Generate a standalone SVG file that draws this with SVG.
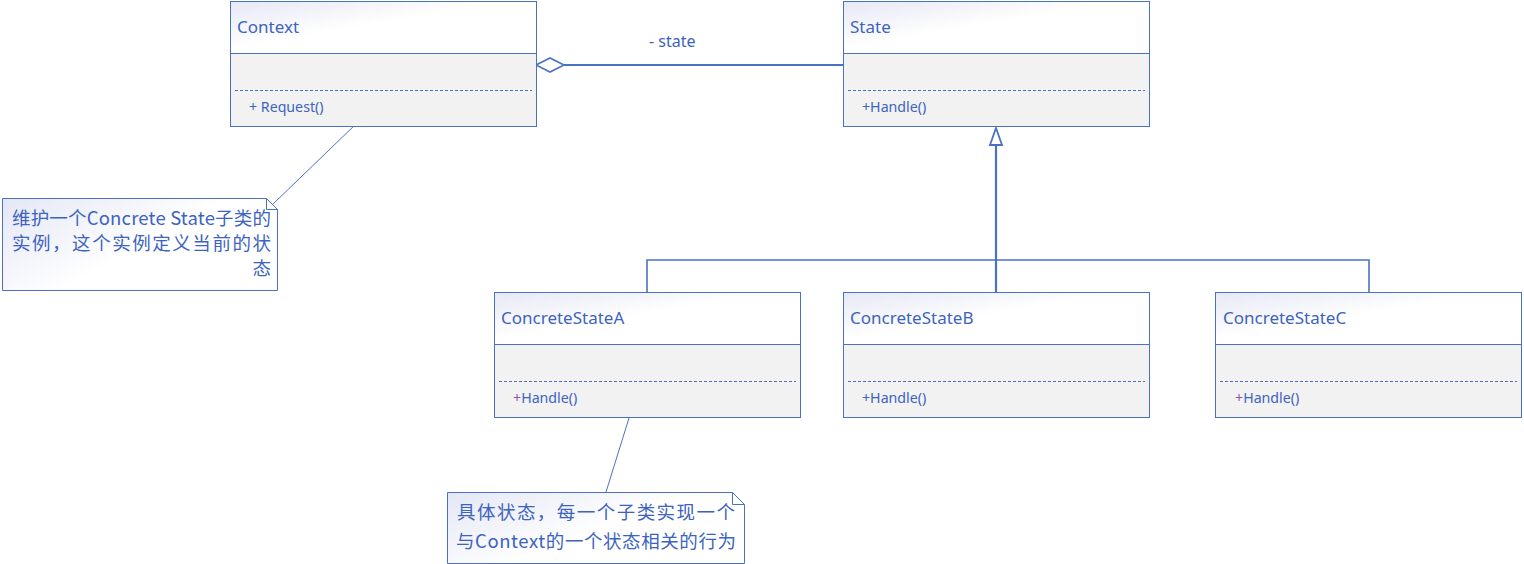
<svg xmlns="http://www.w3.org/2000/svg" width="1524" height="564" viewBox="0 0 1524 564">
<defs>
<linearGradient id="hdr" x1="0" y1="0" x2="1" y2="1">
<stop offset="0" stop-color="#e6e8f5"/>
<stop offset="0.45" stop-color="#ffffff"/>
<stop offset="1" stop-color="#ffffff"/>
</linearGradient>
<linearGradient id="note" x1="0" y1="0" x2="1" y2="0.6">
<stop offset="0" stop-color="#e4e7f5"/>
<stop offset="0.6" stop-color="#ffffff"/>
<stop offset="1" stop-color="#ffffff"/>
</linearGradient>
</defs>
<style>
.hdr{fill:url(#hdr);stroke:#4a72c4;stroke-width:1}
.body{fill:#f2f2f2;stroke:#4a72c4;stroke-width:1}
.dash{stroke:#4a72c4;stroke-width:1;stroke-dasharray:3,2;fill:none}
.title{font-family:"Noto Sans","Noto Sans CJK SC",sans-serif;font-size:17px;fill:#3d63c0}
.op{font-family:"Noto Sans","Noto Sans CJK SC",sans-serif;font-size:14.2px;fill:#3d63c0}
.plus{fill:#8a56a8}
.lbl{font-family:"Noto Sans","Noto Sans CJK SC",sans-serif;font-size:16px;fill:#3d63c0}
.note{fill:url(#note);stroke:#4a72c4;stroke-width:1}
.ntxt{font-family:"Noto Sans CJK SC",sans-serif;font-size:18.5px;fill:#3d63c0}
.conn{stroke:#4a72c4;fill:none}
</style>
<rect width="1524" height="564" fill="#ffffff"/>
<g id="connectors">
<line class="conn" x1="563" y1="65" x2="843" y2="65" stroke-width="2"/>
<path class="conn" d="M996,292 L996,145" stroke-width="2.2"/>
<path class="conn" d="M647,292 L647,260 L1369,260 L1369,292" stroke-width="1.6"/>
<path d="M996,128 L1002,145 L990,145 Z" fill="#ffffff" stroke="#4a72c4" stroke-width="1.8"/>
<path d="M536,65 L550,58 L564,65 L550,72 Z" fill="#ffffff" stroke="#4a72c4" stroke-width="1.6"/>
<line class="conn" x1="357" y1="123" x2="272" y2="205" stroke-width="1"/>
<line class="conn" x1="629" y1="418" x2="606" y2="492" stroke-width="1"/>
<text class="lbl" x="649" y="47">- state</text>
</g>
<g id="Context">
<rect class="hdr" x="230.5" y="1.5" width="306" height="52"/>
<rect class="body" x="230.5" y="53.5" width="306" height="73"/>
<line class="dash" x1="235" y1="90.5" x2="532" y2="90.5"/>
<text class="title" x="237" y="33">Context</text>
<text class="op" x="249" y="112">+ Request()</text>
</g>
<g id="State">
<rect class="hdr" x="843.5" y="1.5" width="306" height="52"/>
<rect class="body" x="843.5" y="53.5" width="306" height="73"/>
<line class="dash" x1="848" y1="90.5" x2="1145" y2="90.5"/>
<text class="title" x="850" y="33">State</text>
<text class="op" x="862" y="112">+Handle()</text>
</g>
<g id="ConcreteStateA">
<rect class="hdr" x="494.5" y="292.5" width="306" height="52"/>
<rect class="body" x="494.5" y="344.5" width="306" height="73"/>
<line class="dash" x1="499" y1="381.5" x2="796" y2="381.5"/>
<text class="title" x="501" y="324">ConcreteStateA</text>
<text class="op" x="513" y="403"><tspan class="plus">+</tspan>Handle()</text>
</g>
<g id="ConcreteStateB">
<rect class="hdr" x="843.5" y="292.5" width="306" height="52"/>
<rect class="body" x="843.5" y="344.5" width="306" height="73"/>
<line class="dash" x1="848" y1="381.5" x2="1145" y2="381.5"/>
<text class="title" x="850" y="324">ConcreteStateB</text>
<text class="op" x="862" y="403">+Handle()</text>
</g>
<g id="ConcreteStateC">
<rect class="hdr" x="1215.5" y="292.5" width="306" height="52"/>
<rect class="body" x="1215.5" y="344.5" width="306" height="73"/>
<line class="dash" x1="1220" y1="381.5" x2="1517" y2="381.5"/>
<text class="title" x="1223" y="324">ConcreteStateC</text>
<text class="op" x="1235" y="403"><tspan class="plus">+</tspan>Handle()</text>
</g>
<g id="NoteContext">
<path class="note" d="M2.5,198.5 L266.5,198.5 L277.5,209.5 L277.5,290.5 L2.5,290.5 Z"/>
<path class="conn" d="M266.5,198.5 L266.5,209.5 L277.5,209.5" stroke-width="1"/>
<text class="ntxt" x="12" y="225" textLength="259" lengthAdjust="spacing">维护一个Concrete State子类的</text>
<text class="ntxt" x="12" y="250" textLength="259" lengthAdjust="spacing">实例，这个实例定义当前的状</text>
<text class="ntxt" x="271" y="275" text-anchor="end">态</text>
</g>
<g id="NoteConcrete">
<path class="note" d="M447.5,492.5 L732.5,492.5 L744.5,504.5 L744.5,563.5 L447.5,563.5 Z"/>
<path class="conn" d="M732.5,492.5 L732.5,504.5 L744.5,504.5" stroke-width="1"/>
<text class="ntxt" x="457" y="519" textLength="278" lengthAdjust="spacing">具体状态，每一个子类实现一个</text>
<text class="ntxt" x="456" y="548" textLength="280" lengthAdjust="spacing">与Context的一个状态相关的行为</text>
</g>
</svg>
